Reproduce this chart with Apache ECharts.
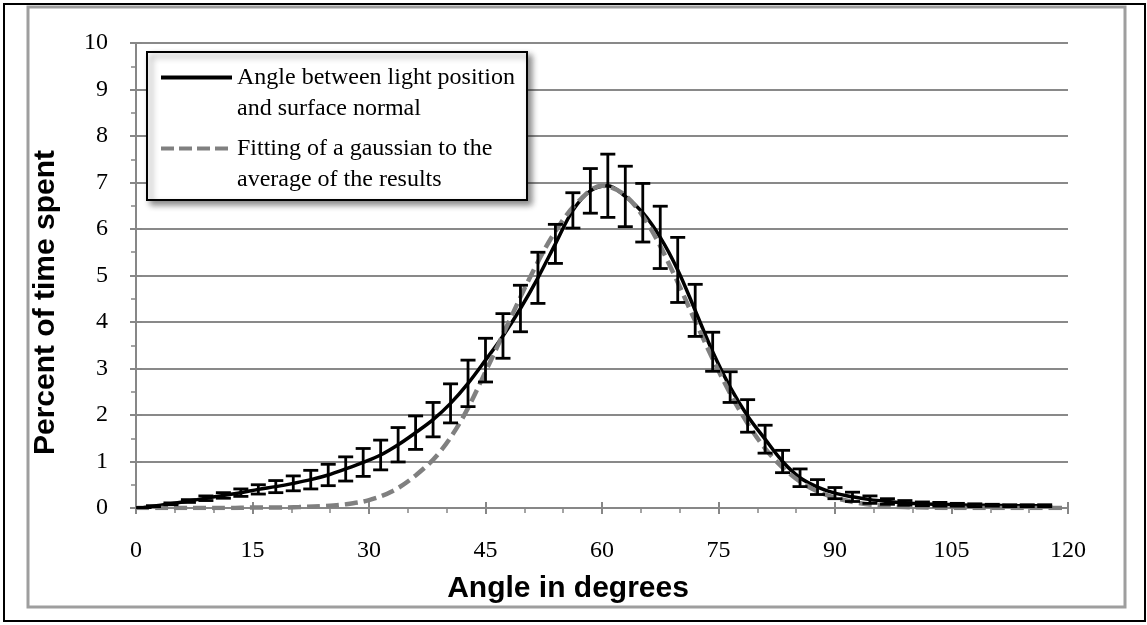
<!DOCTYPE html>
<html><head><meta charset="utf-8">
<script src="https://cdn.jsdelivr.net/npm/echarts@6/dist/echarts.min.js"></script>
<style>html,body{margin:0;padding:0;background:#fff}#c{width:1147px;height:625px}</style>
</head><body><div id="c"></div>
<script>
// Measured series: angle (degrees), mean percent, error (half-length)
const angles = [1, 2.25, 4.5, 6.75, 9, 11.25, 13.5, 15.75, 18, 20.25, 22.5, 24.75, 27, 29.25, 31.5, 33.75, 36, 38.25, 40.5, 42.75, 45, 47.25, 49.5, 51.75, 54, 56.25, 58.5, 60.75, 63, 65.25, 67.5, 69.75, 72, 74.25, 76.5, 78.75, 81, 83.25, 85.5, 87.75, 90, 92.25, 94.5, 96.75, 99, 101.25, 103.5, 105.75, 108, 110.25, 112.5, 114.75, 117];
const means = [0.01, 0.04, 0.09, 0.15, 0.21, 0.27, 0.33, 0.40, 0.46, 0.53, 0.61, 0.71, 0.84, 0.98, 1.14, 1.36, 1.62, 1.90, 2.25, 2.68, 3.18, 3.70, 4.29, 4.95, 5.68, 6.40, 6.82, 6.93, 6.70, 6.35, 5.82, 5.12, 4.25, 3.36, 2.60, 1.98, 1.48, 1.00, 0.65, 0.45, 0.32, 0.24, 0.18, 0.14, 0.11, 0.09, 0.08, 0.07, 0.06, 0.06, 0.05, 0.05, 0.05];
const errs = [0, 0.01, 0.02, 0.03, 0.05, 0.06, 0.08, 0.10, 0.13, 0.16, 0.20, 0.23, 0.26, 0.30, 0.32, 0.37, 0.36, 0.37, 0.42, 0.50, 0.47, 0.48, 0.50, 0.55, 0.42, 0.38, 0.48, 0.68, 0.65, 0.63, 0.67, 0.70, 0.56, 0.42, 0.33, 0.35, 0.30, 0.24, 0.19, 0.16, 0.12, 0.10, 0.08, 0.06, 0.05, 0.04, 0.04, 0.03, 0.03, 0.02, 0.02, 0.02, 0.02];
// Gaussian fit
const fitAngles = [0, 3, 6, 9, 12, 15, 18, 21, 24, 27, 30, 33, 36, 39, 42, 45, 48, 51, 54, 57, 60, 63, 66, 69, 72, 75, 78, 81, 84, 87, 90, 93, 96, 99, 102, 105, 108, 111, 114, 117, 120];
const fitValues = [0, 0, 0, 0, 0, 0.01, 0.01, 0.02, 0.04, 0.08, 0.17, 0.36, 0.70, 1.18, 1.92, 2.93, 4.00, 5.05, 5.95, 6.60, 6.93, 6.72, 6.08, 5.12, 4.02, 2.95, 2.02, 1.28, 0.76, 0.42, 0.22, 0.11, 0.05, 0.02, 0.01, 0, 0, 0, 0, 0, 0];

const name1 = 'Angle between light position\nand surface normal';
const name2 = 'Fitting of a gaussian to the\naverage of the results';

const AX = '#878787';
const serif = 'Liberation Serif';
const sans = 'Liberation Sans';

const chart = echarts.init(document.getElementById('c'), null, {renderer: 'canvas'});
const meanData = angles.map((a, i) => [a, means[i]]);
const fitData = fitAngles.map((a, i) => [a, fitValues[i]]);
const errData = angles.map((a, i) => [a, means[i] - errs[i], means[i] + errs[i]]);

const option = {
  animation: false,
  backgroundColor: '#fff',
  grid: {left: 136, right: 79, top: 43, bottom: 117},
  xAxis: [{
    type: 'value', min: 0, max: 120, interval: 15,
    axisLine: {lineStyle: {color: AX, width: 2}},
    axisTick: {length: 6, lineStyle: {color: AX, width: 2}},
    minorTick: {show: true, splitNumber: 3, length: 5, lineStyle: {color: AX, width: 1.5}},
    splitLine: {show: false},
    axisLabel: {fontFamily: serif, fontSize: 24, color: '#000', margin: 31},
    name: 'Angle in degrees', nameLocation: 'middle', nameGap: 66,
    nameTextStyle: {fontFamily: sans, fontWeight: 'bold', fontSize: 30, color: '#000', padding: [0, 68, 0, 0]}
  }, {
    type: 'value', min: 0, max: 120, interval: 15, position: 'bottom',
    axisLine: {show: false},
    axisTick: {inside: true, length: 6, lineStyle: {color: AX, width: 2}},
    axisLabel: {show: false}, splitLine: {show: false}
  }],
  yAxis: [{
    type: 'value', min: 0, max: 10, interval: 1,
    axisLine: {show: true, lineStyle: {color: AX, width: 2}},
    axisTick: {show: true, length: 6, lineStyle: {color: AX, width: 2}},
    minorTick: {show: true, splitNumber: 2, length: 5, lineStyle: {color: AX, width: 1.5}},
    splitLine: {show: true, lineStyle: {color: '#898989', width: 2}},
    axisLabel: {fontFamily: serif, fontSize: 24, color: '#000', margin: 28},
    name: 'Percent of time spent', nameLocation: 'middle', nameGap: 75,
    nameTextStyle: {fontFamily: sans, fontWeight: 'bold', fontSize: 30, color: '#000', padding: [0, 54, 0, 0]}
  }, {
    type: 'value', min: 0, max: 10, interval: 1, position: 'left',
    axisLine: {show: false},
    axisTick: {show: true, inside: true, length: 6, lineStyle: {color: AX, width: 2}},
    axisLabel: {show: false}, splitLine: {show: false}
  }],
  legend: {
    left: 159, top: 31, orient: 'vertical', padding: 0,
    itemWidth: 71, itemHeight: 14, itemGap: -22, z: 20,
    selectedMode: false,
    itemStyle: {opacity: 0},
    data: [
      {name: name1, lineStyle: {width: 4, color: '#000'}, itemStyle: {opacity: 0}},
      {name: name2, lineStyle: {width: 4, color: '#808080', type: [13, 5]}, itemStyle: {opacity: 0}}
    ],
    formatter: function (n) { return '\n' + n; },
    textStyle: {fontFamily: serif, fontSize: 24, color: '#000', lineHeight: 31}
  },
  graphic: [
    {type: 'rect', z: 0, shape: {x: 4, y: 4, width: 1141, height: 617}, style: {fill: 'none', stroke: '#000', lineWidth: 2}},
    {type: 'rect', z: 0, shape: {x: 28, y: 7, width: 1097, height: 600}, style: {fill: 'none', stroke: '#9e9e9e', lineWidth: 3}},
    {type: 'rect', z: 15, shape: {x: 147, y: 52, width: 380, height: 148},
     style: {fill: '#fff', stroke: '#000', lineWidth: 2, shadowBlur: 6, shadowOffsetX: 4, shadowOffsetY: 4, shadowColor: 'rgba(0,0,0,0.45)'}}
  ],
  series: [{
    name: name1, type: 'line', data: meanData, smooth: 0.35, symbol: 'none', z: 2,
    xAxisIndex: 0, yAxisIndex: 0,
    lineStyle: {color: '#000', width: 3.5}, itemStyle: {color: '#000'}
  }, {
    name: name2, type: 'line', data: fitData, smooth: 0.35, symbol: 'none', z: 3,
    xAxisIndex: 0, yAxisIndex: 0,
    lineStyle: {color: '#808080', width: 4.5, type: [13, 6]}, itemStyle: {color: '#808080'}
  }, {
    name: 'errors', type: 'custom', z: 4, xAxisIndex: 0, yAxisIndex: 0,
    data: errData, encode: {x: 0, y: [1, 2]},
    renderItem: function (params, api) {
      const x = api.value(0);
      const lo = api.coord([x, api.value(1)]);
      const hi = api.coord([x, api.value(2)]);
      const hw = 7.5;
      const st = {stroke: '#000', lineWidth: 2.8};
      return {type: 'group', children: [
        {type: 'line', shape: {x1: lo[0], y1: lo[1], x2: hi[0], y2: hi[1]}, style: st},
        {type: 'line', shape: {x1: hi[0] - hw, y1: hi[1], x2: hi[0] + hw, y2: hi[1]}, style: st},
        {type: 'line', shape: {x1: lo[0] - hw, y1: lo[1], x2: lo[0] + hw, y2: lo[1]}, style: st}
      ]};
    }
  }]
};
chart.setOption(option);
</script>
</body></html>
